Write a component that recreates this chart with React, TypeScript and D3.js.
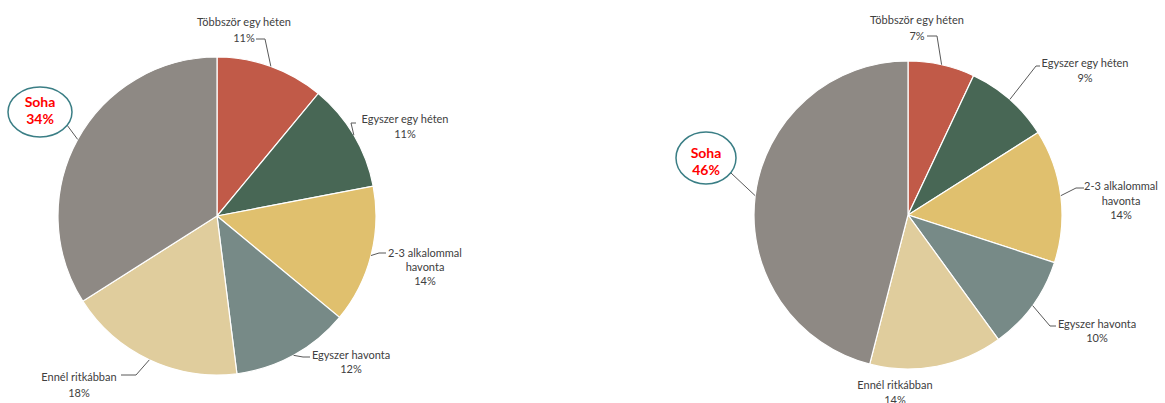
import React from "react";
import * as d3 from "d3";

const categories = [
  "Többször egy héten",
  "Egyszer egy héten",
  "2-3 alkalommal havonta",
  "Egyszer havonta",
  "Ennél ritkábban",
  "Soha",
];
const leftValues = [11, 11, 14, 12, 18, 34];
const rightValues = [7, 9, 14, 10, 14, 46];
const colors = ["#C15A48", "#486755", "#E0C06E", "#778A87", "#E0CD9D", "#8E8984"];

// label layout (positions only)
type LabelLayout = { lines: string[]; cx: number; ys: number[]; leader: [number, number][] | null; highlight?: boolean; ellipse?: [number, number, number, number] };

const leftLayout = (vals: number[]): LabelLayout[] => [
  { lines: ["Többször egy héten", `${vals[0]}%`], cx: 244, ys: [21, 37], leader: [[265, 39], [256, 39]] },
  { lines: ["Egyszer egy héten", `${vals[1]}%`], cx: 405, ys: [118, 133], leader: [[351, 123], [356, 123]] },
  { lines: ["2-3 alkalommal", "havonta", `${vals[2]}%`], cx: 425, ys: [252, 266, 280], leader: [[379, 253], [386, 253]] },
  { lines: ["Egyszer havonta", `${vals[3]}%`], cx: 351, ys: [354, 368], leader: [[303, 357], [310, 357]] },
  { lines: ["Ennél ritkábban", `${vals[4]}%`], cx: 79, ys: [376, 392], leader: [[136, 375], [121, 375]] },
  { lines: ["Soha", `${vals[5]}%`], cx: 40, ys: [101, 118], leader: [[64, 121], [57, 121]], highlight: true, ellipse: [40, 112, 32, 25] },
];

const rightLayout = (vals: number[]): LabelLayout[] => [
  { lines: ["Többször egy héten", `${vals[0]}%`], cx: 917, ys: [19, 35], leader: [[937, 36], [927, 36]] },
  { lines: ["Egyszer egy héten", `${vals[1]}%`], cx: 1085, ys: [62, 77], leader: [[1036, 66], [1040, 66]] },
  { lines: ["2-3 alkalommal", "havonta", `${vals[2]}%`], cx: 1121, ys: [185, 200, 214], leader: [[1076, 188], [1084, 188]] },
  { lines: ["Egyszer havonta", `${vals[3]}%`], cx: 1097, ys: [323, 337], leader: [[1050, 326], [1056, 326]] },
  { lines: ["Ennél ritkábban", `${vals[4]}%`], cx: 895, ys: [384, 399], leader: null },
  { lines: ["Soha", `${vals[5]}%`], cx: 706, ys: [152, 169], leader: [[731, 173], [725, 173]], highlight: true, ellipse: [706, 158, 30, 26] },
];

function Pie({ values, cx, cy, r, layout }: { values: number[]; cx: number; cy: number; r: number; layout: LabelLayout[] }) {
  const pie = d3.pie<number>().sort(null).value((d) => d)(values);
  const arc = d3.arc<d3.PieArcDatum<number>>().innerRadius(0).outerRadius(r);
  const edge = d3.arc<d3.PieArcDatum<number>>().innerRadius(r).outerRadius(r);
  const line = d3.line();
  return (
    <g>
      <g transform={`translate(${cx},${cy})`}>
        {pie.map((p, i) => (
          <path key={i} d={arc(p) || ""} fill={colors[i]} stroke="#ffffff" strokeWidth={1.2} />
        ))}
      </g>
      {pie.map((p, i) => {
        const L = layout[i];
        const c = edge.centroid(p);
        const ep: [number, number] = [cx + c[0], cy + c[1]];
        return (
          <g key={"l" + i}>
            {L.leader && (
              <path d={line([ep, ...L.leader]) || ""} fill="none" stroke="#595959" strokeWidth={1} />
            )}
            {L.ellipse && (
              <ellipse cx={L.ellipse[0]} cy={L.ellipse[1]} rx={L.ellipse[2]} ry={L.ellipse[3]} fill="#ffffff" stroke="#3A7E85" strokeWidth={1.5} />
            )}
            {L.lines.map((t, j) => (
              <text
                key={j}
                x={L.cx}
                y={L.ys[j]}
                textAnchor="middle"
                dominantBaseline="central"
                fontFamily="Lato, 'Open Sans', sans-serif"
                fontSize={L.highlight ? 14 : 11}
                fontWeight={L.highlight ? 700 : 400}
                fill={L.highlight ? "#FF0000" : "#404040"}
              >
                {t}
              </text>
            ))}
          </g>
        );
      })}
    </g>
  );
}

export default function App() {
  return (
    <svg width={1165} height={403} style={{ position: "absolute", left: 0, top: 0, background: "#ffffff" }}>
      <Pie values={leftValues} cx={217} cy={216} r={159} layout={leftLayout(leftValues)} />
      <Pie values={rightValues} cx={908} cy={215} r={154} layout={rightLayout(rightValues)} />
    </svg>
  );
}
